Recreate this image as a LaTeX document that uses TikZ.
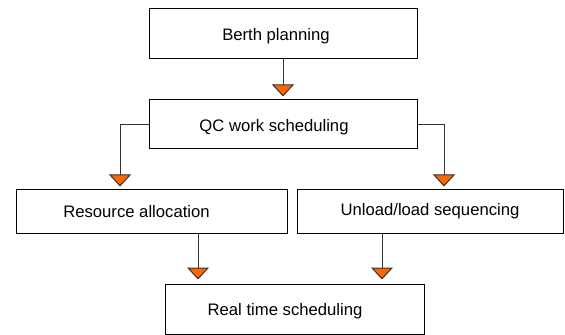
\documentclass[tikz,border=0pt]{standalone}
\usepackage{fontspec}
\setmainfont{Liberation Sans}
\usetikzlibrary{arrows.meta}
\definecolor{tiporange}{RGB}{255,102,0}
\tikzset{
  task/.style={draw, line width=0.75pt, inner sep=0pt},
  flow/.style={draw=black!80, line width=0.75pt,
    -{Triangle[width=16.5pt,length=9pt,fill=tiporange]}},
}

\begin{document}
\begin{tikzpicture}[x=0.75pt,y=-0.75pt,font=\fontsize{12.5}{15}\selectfont]
\useasboundingbox (0,0) rectangle (565,335);
% the five planning levels
\node[task,minimum width=201pt,minimum height=37.5pt,
 label={[xshift=-5.25pt,yshift=-1.5pt]center:Berth planning}] (berth) at (283,34) {};
\node[task,minimum width=201pt,minimum height=36.75pt,
 label={[xshift=-6.75pt,yshift=-1.9pt]center:QC work scheduling}] (qc) at (283,124.5) {};
\node[task,minimum width=203.25pt,minimum height=33pt,
 label={[xshift=-11.25pt]center:Resource allocation}] (res) at (151.5,212) {};
\node[task,minimum width=199.5pt,minimum height=33pt,
 label={[yshift=0.75pt]center:Unload/load sequencing}] (unl) at (430,212) {};
\node[task,minimum width=194.25pt,minimum height=37.5pt,
 label={[xshift=-7.1pt,yshift=-1.5pt]center:Real time scheduling}] (rt) at (294.5,309) {};
% links between levels
\draw[flow,shorten >=2.25pt] (berth) -- (qc);
\draw[flow,shorten >=2.25pt] (qc.west) -| ([xshift=-23.6pt]res.north);
\draw[flow,shorten >=2.25pt] (qc.east) -| ([xshift=10.5pt]unl.north);
\coordinate (resout) at ([xshift=34.9pt]res.south);
\coordinate (unlout) at ([xshift=-36pt]unl.south);
\foreach \c in {resout,unlout}
  \draw[flow,shorten >=3pt] (\c) -- (\c |- rt.north);
\end{tikzpicture}
\end{document}
